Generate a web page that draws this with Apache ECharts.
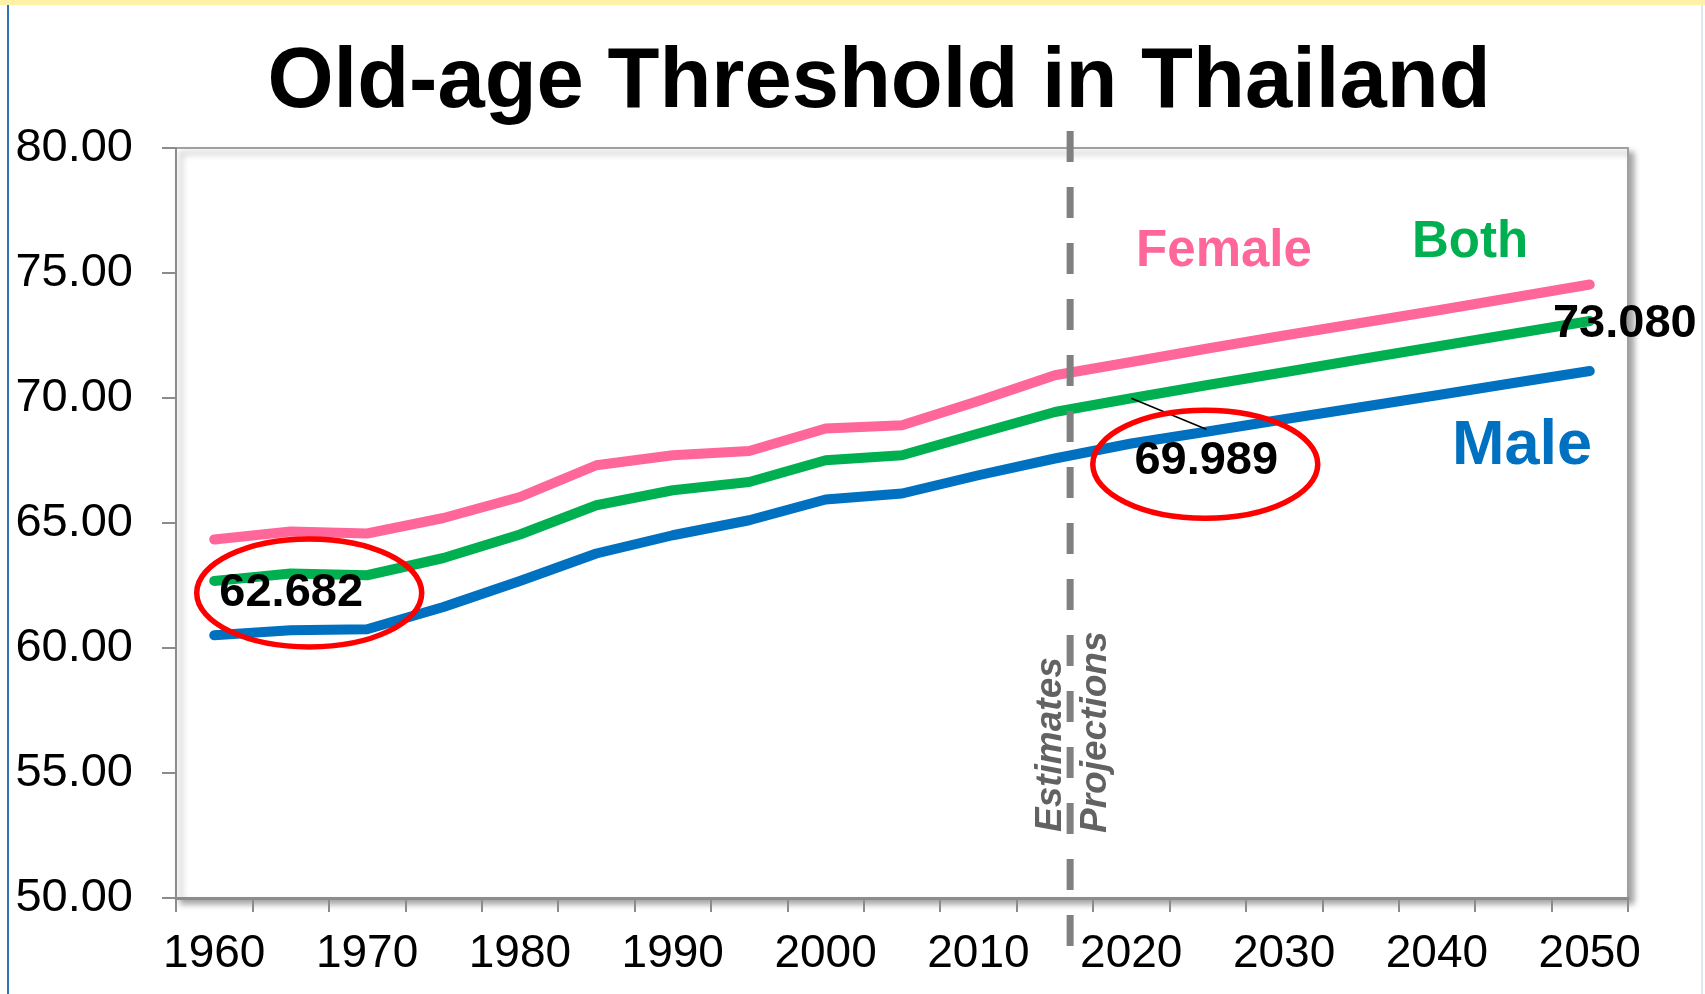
<!DOCTYPE html>
<html><head><meta charset="utf-8">
<script src="https://cdn.jsdelivr.net/npm/echarts@6/dist/echarts.min.js"></script>
<style>html,body{margin:0;padding:0;background:#fff}#c{width:1705px;height:994px}</style>
</head><body><div id="c"></div>
<script>
// ---- data ----
const years = ['1960','1965','1970','1975','1980','1985','1990','1995','2000','2005','2010','2015','2020','2025','2030','2035','2040','2045','2050'];
const female = [64.34, 64.66, 64.58, 65.20, 66.04, 67.31, 67.71, 67.88, 68.78, 68.91, 69.88, 70.91, 71.44, 71.98, 72.50, 73.00, 73.50, 74.02, 74.54];
const both   = [62.682, 62.98, 62.91, 63.60, 64.54, 65.71, 66.31, 66.64, 67.51, 67.71, 68.58, 69.44, 69.989, 70.52, 71.03, 71.55, 72.06, 72.57, 73.080];
const male   = [60.51, 60.71, 60.75, 61.64, 62.68, 63.78, 64.51, 65.11, 65.94, 66.18, 66.91, 67.58, 68.18, 68.66, 69.15, 69.63, 70.11, 70.60, 71.08];
const seriesNames = ['Female', 'Both', 'Male'];
const titleText = 'Old-age Threshold in Thailand';
const yMin = 50, yMax = 80, yStep = 5;
const dividerYear = 2016;
const dividerLabels = ['Estimates', 'Projections'];
const highlighted = [0, 12, 18]; // indices of "Both" values called out

const FONT = "'Liberation Sans', Arial, Helvetica, sans-serif";
const COLORS = {Female: '#FF6699', Both: '#00B050', Male: '#0070C0'};

const chart = echarts.init(document.getElementById('c'), null, {renderer: 'canvas'});
const mk = (name, data) => ({
  name, type: 'line', data, symbol: 'none', smooth: false,
  lineStyle: {color: COLORS[name], width: 10, cap: 'round', join: 'round'},
  itemStyle: {color: COLORS[name]}, z: 3
});
chart.setOption({
  animation: false,
  backgroundColor: '#fff',
  grid: {left: 176, right: 77, top: 148, bottom: 96, show: true,
    backgroundColor: '#fff', borderColor: '#a0a0a0', borderWidth: 2,
    shadowColor: 'rgba(0,0,0,0.35)', shadowBlur: 6, shadowOffsetX: 5, shadowOffsetY: 5},
  xAxis: {type: 'category', data: years, boundaryGap: true,
    axisLine: {lineStyle: {color: '#8c8c8c', width: 3}},
    axisTick: {show: true, interval: 0, length: 14, lineStyle: {color: '#8c8c8c', width: 2}},
    axisLabel: {interval: 1, margin: 33, color: '#000', fontSize: 46, fontFamily: FONT},
    splitLine: {show: false}},
  yAxis: {type: 'value', min: yMin, max: yMax, interval: yStep,
    axisLine: {show: true, lineStyle: {color: '#8c8c8c', width: 2}},
    axisTick: {show: true, length: 14, lineStyle: {color: '#8c8c8c', width: 2}},
    axisLabel: {margin: 43, color: '#000', fontSize: 47, fontFamily: FONT, formatter: v => v.toFixed(2)},
    splitLine: {show: false}},
  series: [mk('Female', female), mk('Both', both), mk('Male', male)]
});

const px = (i, v) => chart.convertToPixel({xAxisIndex: 0, yAxisIndex: 0}, [i, v]);
// divider position between category centres
const fi = (dividerYear - 1960) / 5;
const i0 = Math.floor(fi);
const xa = px(i0, yMin)[0], xb = px(i0 + 1, yMin)[0];
const xd = xa + (xb - xa) * (fi - i0);

const g = [];
// frame
g.push({type: 'rect', shape: {x: 0, y: 0, width: 1705, height: 5}, style: {fill: '#FFF2A6'}, z: 20});
g.push({type: 'rect', shape: {x: 7, y: 5, width: 2, height: 989}, style: {fill: '#2E75B6'}, z: 20});
g.push({type: 'rect', shape: {x: 1701, y: 5, width: 2, height: 989}, style: {fill: '#DCE9F5'}, z: 20});
// title
g.push({type: 'text', x: 879, y: 84, z: 20, style: {text: titleText, fill: '#000', font: 'bold 85px ' + FONT, align: 'center', verticalAlign: 'middle'}});
// divider
g.push({type: 'line', z: 10, shape: {x1: xd, y1: 131, x2: xd, y2: 947}, style: {stroke: '#808080', lineWidth: 7, lineDash: [31, 25]}});
g.push({type: 'text', x: xd - 19, y: 832, rotation: Math.PI / 2, z: 10, style: {text: dividerLabels[0], fill: '#626262', font: 'italic bold 37px ' + FONT, align: 'left', verticalAlign: 'middle'}});
g.push({type: 'text', x: xd + 26, y: 833, rotation: Math.PI / 2, z: 10, style: {text: dividerLabels[1], fill: '#626262', font: 'italic bold 37px ' + FONT, align: 'left', verticalAlign: 'middle'}});
// series name labels
g.push({type: 'text', x: 1224, y: 252, z: 10, style: {text: seriesNames[0], fill: COLORS.Female, font: 'bold 51px ' + FONT, align: 'center', verticalAlign: 'middle'}});
g.push({type: 'text', x: 1470, y: 243, z: 10, style: {text: seriesNames[1], fill: COLORS.Both, font: 'bold 51px ' + FONT, align: 'center', verticalAlign: 'middle'}});
g.push({type: 'text', x: 1522, y: 447, z: 10, style: {text: seriesNames[2], fill: COLORS.Male, font: 'bold 63px ' + FONT, align: 'center', verticalAlign: 'middle'}});
// call-outs
const p0 = px(highlighted[0], both[highlighted[0]]);
const p1 = px(highlighted[1], both[highlighted[1]]);
const p2 = px(highlighted[2], both[highlighted[2]]);
const lab = (x, y, v) => ({type: 'text', x, y, z: 12, style: {text: v.toFixed(3), fill: '#000', font: 'bold 47px ' + FONT, align: 'center', verticalAlign: 'middle'}});
g.push({type: 'ellipse', z: 11, shape: {cx: p0[0] + 95, cy: p0[1] + 12, rx: 112.5, ry: 54}, style: {fill: 'none', stroke: '#FF0000', lineWidth: 5.5}});
g.push(lab(p0[0] + 77, p0[1] + 12, both[highlighted[0]]));
g.push({type: 'line', z: 11, shape: {x1: p1[0], y1: p1[1], x2: p1[0] + 75, y2: p1[1] + 31}, style: {stroke: '#000', lineWidth: 1.5}});
g.push({type: 'ellipse', z: 11, shape: {cx: p1[0] + 74, cy: p1[1] + 66, rx: 112.5, ry: 54}, style: {fill: 'none', stroke: '#FF0000', lineWidth: 5.5}});
g.push(lab(p1[0] + 75, p1[1] + 63, both[highlighted[1]]));
g.push(lab(p2[0] + 35, p2[1] + 3, both[highlighted[2]]));

chart.setOption({graphic: g});
</script>
</body></html>
